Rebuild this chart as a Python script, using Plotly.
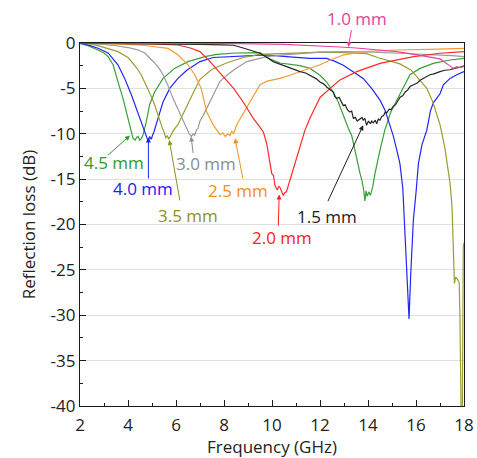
import plotly.graph_objects as go

# ---- measured reflection loss curves (frequency in GHz, RL in dB) ----
f_45 = [2.0, 2.33, 2.75, 3.0, 3.17, 3.38, 3.58, 3.79, 4.0, 4.08, 4.14, 4.21, 4.3, 4.36, 4.42, 4.49, 4.56, 4.63, 4.7, 4.76,
        4.9, 5.11, 5.46, 5.94, 6.5, 7.2, 7.7, 8.5, 9.5, 9.78, 10.33, 10.8, 11.17, 11.58, 12.0, 12.28, 12.55, 12.76, 12.97, 13.18,
        13.32, 13.5, 13.67, 13.75, 13.82, 13.87, 13.92, 13.97, 14.03, 14.1, 14.2, 14.29, 14.4, 14.5, 14.7, 14.95, 15.2, 15.45, 15.75, 16.17,
        16.72, 17.42, 18.0]
rl_45 = [-0.05, -0.29, -0.77, -1.1, -1.5, -2.4, -4.25, -6.1, -8.3, -9.0, -9.8, -10.5, -10.7, -10.4, -10.3, -10.7, -10.5, -10.1, -9.4, -8.7,
         -6.8, -5.4, -3.9, -2.8, -2.05, -1.5, -1.25, -1.1, -1.05, -1.6, -2.2, -2.4, -2.5, -2.8, -3.56, -4.3, -5.4, -6.5, -8.0, -9.4,
         -10.2, -12.5, -14.4, -15.2, -16.2, -17.4, -16.3, -16.9, -16.4, -16.8, -15.8, -14.4, -13.0, -11.8, -9.6, -7.6, -6.3, -5.0, -3.5, -2.8,
         -2.24, -1.87, -1.7]

f_40 = [2.0, 2.33, 2.75, 3.17, 3.58, 3.86, 4.14, 4.35, 4.55, 4.7, 4.8, 4.85, 4.9, 4.97, 5.02, 5.08, 5.25, 5.46, 5.74, 6.08,
        6.45, 7.0, 7.55, 8.4, 9.0, 9.78, 10.6, 11.58, 12.28, 12.6, 12.97, 13.39, 13.8, 14.15, 14.5, 14.71, 14.92, 15.05, 15.2, 15.33,
        15.45, 15.54, 15.62, 15.71, 15.78, 15.84, 15.89, 16.0, 16.1, 16.25, 16.45, 16.6, 16.72, 16.86, 17.0, 17.14, 17.42, 17.7, 18.0]
rl_40 = [-0.05, -0.2, -0.58, -1.1, -2.4, -3.9, -5.7, -7.2, -8.7, -9.8, -10.5, -10.9, -10.3, -10.6, -10.2, -9.8, -8.3, -6.5, -5.0, -3.9,
         -3.0, -2.05, -1.6, -1.5, -1.35, -1.3, -1.5, -1.7, -1.7, -2.0, -2.45, -3.2, -3.9, -5.0, -6.3, -7.4, -9.0, -10.2, -11.8, -13.3,
         -16.0, -20.6, -25.0, -30.4, -25.5, -21.5, -19.5, -16.5, -13.3, -11.2, -9.6, -7.5, -6.6, -6.1, -5.6, -4.6, -3.9, -3.5, -3.15]

f_35 = [2.0, 2.4, 2.75, 3.17, 3.58, 4.0, 4.14, 4.35, 4.55, 4.7, 4.83, 4.97, 5.11, 5.25, 5.32, 5.42, 5.5, 5.58, 5.64, 5.7,
        5.76, 5.83, 5.9, 6.08, 6.36, 6.7, 7.0, 7.5, 8.1, 8.8, 9.5, 10.05, 11.0, 12.1, 13.0, 13.95, 14.4, 14.9, 15.33, 15.8,
        16.17, 16.45, 16.7, 17.0, 17.2, 17.42, 17.5, 17.56, 17.6, 17.65, 17.72, 17.8, 17.83, 17.88, 17.93, 17.97, 18.0]
rl_35 = [-0.02, -0.1, -0.29, -0.6, -0.95, -1.6, -2.05, -2.7, -3.5, -4.3, -5.0, -5.9, -6.8, -8.0, -8.5, -9.3, -9.8, -10.5, -10.2, -10.6,
         -10.3, -10.0, -9.6, -9.0, -7.4, -5.6, -4.0, -2.9, -2.2, -1.6, -1.25, -1.2, -1.05, -1.0, -1.05, -1.17, -1.6, -2.0, -2.3, -3.0,
         -4.1, -5.0, -6.5, -9.0, -11.5, -15.5, -18.0, -22.0, -26.5, -25.8, -26.0, -26.4, -30.0, -41.0, -41.0, -22.5, -22.0]

f_30 = [2.0, 2.5, 3.0, 3.5, 4.0, 4.4, 4.7, 5.11, 5.3, 5.46, 5.67, 5.875, 6.08, 6.29, 6.45, 6.55, 6.64, 6.72, 6.78, 6.85,
        6.92, 7.0, 7.13, 7.33, 7.55, 7.83, 8.1, 8.4, 8.95, 9.78, 10.5, 11.17, 12.0, 13.0, 14.2, 15.3, 16.0, 17.0, 17.5, 18.0]
rl_30 = [-0.02, -0.08, -0.15, -0.3, -0.5, -0.75, -1.1, -2.2, -2.8, -3.5, -4.7, -6.1, -7.3, -8.5, -9.4, -10.0, -10.3, -10.0, -10.2, -9.6,
         -9.4, -8.6, -8.0, -6.9, -5.6, -4.25, -3.6, -2.97, -2.05, -1.5, -1.3, -1.13, -1.0, -0.95, -1.0, -1.13, -1.2, -1.3, -1.4, -1.5]

f_25 = [2.0, 3.0, 4.0, 4.6, 5.1, 5.67, 6.08, 6.5, 6.78, 7.05, 7.28, 7.42, 7.55, 7.7, 7.83, 7.95, 8.05, 8.15, 8.25, 8.32,
        8.4, 8.53, 8.75, 8.95, 9.2, 9.5, 9.8, 10.33, 10.8, 11.17, 11.6, 12.0, 12.4, 13.0, 13.8, 15.2, 16.5, 18.0]
rl_25 = [0.0, -0.05, -0.15, -0.25, -0.4, -0.6, -1.3, -2.4, -3.5, -5.0, -7.6, -8.4, -9.0, -9.6, -10.1, -9.9, -10.3, -10.0, -10.2, -9.7,
         -10.0, -9.0, -8.0, -7.2, -5.9, -4.6, -4.2, -3.9, -3.5, -3.15, -2.8, -2.4, -1.9, -1.3, -0.95, -0.77, -0.7, -0.6]

f_20 = [2.0, 4.0, 5.0, 6.08, 6.6, 7.0, 7.42, 7.83, 8.1, 8.4, 8.8, 9.22, 9.45, 9.64, 9.78, 9.92, 9.99, 10.06, 10.125, 10.22,
        10.28, 10.33, 10.4, 10.47, 10.53, 10.6, 10.75, 10.96, 11.17, 11.375, 11.58, 11.8, 12.0, 12.42, 12.83, 13.53, 14.5, 15.9, 17.0, 18.0]
rl_20 = [0.0, -0.05, -0.1, -0.22, -0.55, -0.95, -2.05, -3.3, -4.1, -5.0, -6.5, -8.3, -9.1, -9.8, -11.1, -13.3, -14.4, -14.6, -15.7, -16.2,
         -15.8, -15.9, -16.3, -16.8, -16.5, -16.4, -15.1, -13.3, -11.5, -9.6, -8.3, -7.0, -6.0, -5.0, -4.07, -3.15, -2.24, -1.5, -1.13, -0.95]

f_15 = [2.0, 4.0, 6.0, 7.0, 8.0, 8.4, 8.8, 9.1, 9.5, 9.8, 10.05, 10.3, 10.6, 10.9, 11.17, 11.4, 11.58, 11.72, 11.85, 12.0,
        12.15, 12.28, 12.42, 12.55, 12.62, 12.7, 12.8, 12.9, 12.97, 13.05, 13.15, 13.25, 13.32, 13.39, 13.47, 13.55, 13.6, 13.68, 13.75, 13.8,
        13.87, 13.94, 14.02, 14.1, 14.15, 14.22, 14.3, 14.36, 14.43, 14.5, 14.57, 14.65, 14.72, 14.78, 14.88, 14.96, 15.05, 15.15, 15.25, 15.33,
        15.45, 15.55, 15.65, 15.75, 15.9, 16.05, 16.17, 16.3, 16.45, 16.58, 16.75, 16.9, 17.0, 17.2, 17.42, 17.6, 17.8, 18.0]
rl_15 = [-0.02, -0.05, -0.1, -0.15, -0.2, -0.25, -0.55, -0.8, -1.13, -1.6, -2.05, -2.3, -2.6, -2.85, -3.15, -3.3, -3.56, -3.7, -3.95, -4.3,
         -4.5, -4.85, -5.1, -5.4, -5.9, -6.1, -6.0, -6.6, -6.9, -6.8, -7.4, -7.6, -7.5, -8.3, -8.2, -8.6, -8.5, -8.4, -8.2, -8.5,
         -8.3, -9.07, -8.6, -8.9, -8.6, -8.8, -8.5, -8.9, -8.4, -8.5, -8.1, -8.0, -7.6, -7.7, -7.3, -7.35, -7.0, -6.8, -6.4, -6.0,
         -5.8, -5.4, -5.2, -4.8, -4.6, -4.4, -4.1, -3.9, -3.7, -3.5, -3.4, -3.2, -3.15, -3.0, -2.95, -2.8, -2.7, -2.5]

f_10 = [2.0, 5.0, 8.67, 10.5, 12.0, 12.83, 13.5, 14.5, 15.2, 15.8, 16.45, 16.86, 17.0, 17.14, 17.28, 17.42, 17.56, 17.7, 17.85, 18.0]
rl_10 = [0.0, -0.02, -0.07, -0.15, -0.3, -0.44, -0.55, -0.8, -0.95, -1.2, -1.5, -1.7, -1.75, -2.0, -2.3, -2.5, -2.8, -2.6, -2.7, -2.6]

thickness = ["4.5 mm", "4.0 mm", "3.5 mm", "3.0 mm", "2.5 mm", "2.0 mm", "1.5 mm", "1.0 mm"]
freqs = [f_45, f_40, f_35, f_30, f_25, f_20, f_15, f_10]
losses = [rl_45, rl_40, rl_35, rl_30, rl_25, rl_20, rl_15, rl_10]

x_ticks = [2, 4, 6, 8, 10, 12, 14, 16, 18]
y_ticks = [0, -5, -10, -15, -20, -25, -30, -35, -40]
y_tick_labels = ["0", "-5", "-10", "-15", "-20", "-25", "-30", "-35", "-40"]

# ---- styling ----
colors = ["#3a9e3a", "#2424f5", "#9c9c34", "#9a9a9a", "#f29c38", "#ff2a2a", "#262626", "#e8449e"]
text_colors = ["#2e9a2e", "#2020f0", "#8f8f22", "#8c8c8c", "#ee9020", "#ff2020", "#202020", "#e8409a"]
FONT = "Open Sans"
Y_MIN, Y_MAX = -40, 0

# label centre (f, dB), arrow tail (f, dB), arrow head (f, dB)
label_specs = [
    ((3.4, -13.2), (3.11, -12.5), (4.08, -10.2)),
    ((4.64, -16.05), (4.85, -15.1), (4.85, -10.4)),
    ((6.48, -19.0), (6.17, -17.5), (5.72, -10.7)),
    ((7.23, -13.3), (6.72, -12.3), (6.63, -10.3)),
    ((8.6, -16.2), (8.8, -15.1), (8.46, -10.5)),
    ((10.4, -21.4), (10.26, -20.3), (10.3, -16.7)),
    ((12.31, -19.1), (12.3, -17.6), (13.8, -9.07)),
    ((13.54, 2.69), (13.32, 1.59), (13.18, -0.44)),
]


def y_dom(db):
    """dB value expressed as a fraction of the y-axis domain (may exceed 1)."""
    return (db - Y_MIN) / (Y_MAX - Y_MIN)


fig = go.Figure()
for name, fx, rl, c in zip(thickness, freqs, losses, colors):
    fig.add_trace(go.Scatter(x=fx, y=rl, mode="lines", name=name,
                             line=dict(color=c, width=1.2), showlegend=False))

annotations = []
for name, tc, (lab, tail, head) in zip(thickness, text_colors, label_specs):
    annotations.append(dict(x=head[0], y=y_dom(head[1]), ax=tail[0], ay=y_dom(tail[1]),
                            xref="x", yref="y domain", axref="x", ayref="y domain",
                            text="", showarrow=True, arrowhead=2, arrowsize=1,
                            arrowwidth=1, arrowcolor=tc))
    annotations.append(dict(x=lab[0], y=y_dom(lab[1]), xref="x", yref="y domain", text=name,
                            showarrow=False, xanchor="center", yanchor="middle",
                            font=dict(family=FONT, size=17, color=tc)))

axis_common = dict(showline=True, linecolor="#1a1a1a", linewidth=1.3, mirror=True,
                   ticks="inside", tickcolor="#1a1a1a", ticklen=6, tickwidth=1,
                   tickfont=dict(family=FONT, size=17, color="#222222"),
                   zeroline=False, automargin=False)

fig.update_layout(
    width=477, height=458,
    margin=dict(l=80, r=13, t=43, b=52),
    paper_bgcolor="white", plot_bgcolor="white",
    annotations=annotations,
    xaxis=dict(range=[2, 18], tickvals=x_ticks, showgrid=False, ticklabelstandoff=3,
               title=dict(text="Frequency (GHz)", font=dict(family=FONT, size=17, color="#222222"), standoff=12),
               minor=dict(dtick=1, tick0=2, ticks="inside", ticklen=3, tickcolor="#1a1a1a", showgrid=False),
               **axis_common),
    yaxis=dict(range=[Y_MIN, Y_MAX], tickvals=y_ticks, ticktext=y_tick_labels, showgrid=True,
               gridcolor="#e0e0e0", gridwidth=1,
               title=dict(text="Reflection loss (dB)", font=dict(family=FONT, size=17, color="#222222"), standoff=10),
               minor=dict(dtick=2.5, tick0=0, ticks="inside", ticklen=3, tickcolor="#1a1a1a", showgrid=False),
               **axis_common),
)

fig.write_html("out.html")
